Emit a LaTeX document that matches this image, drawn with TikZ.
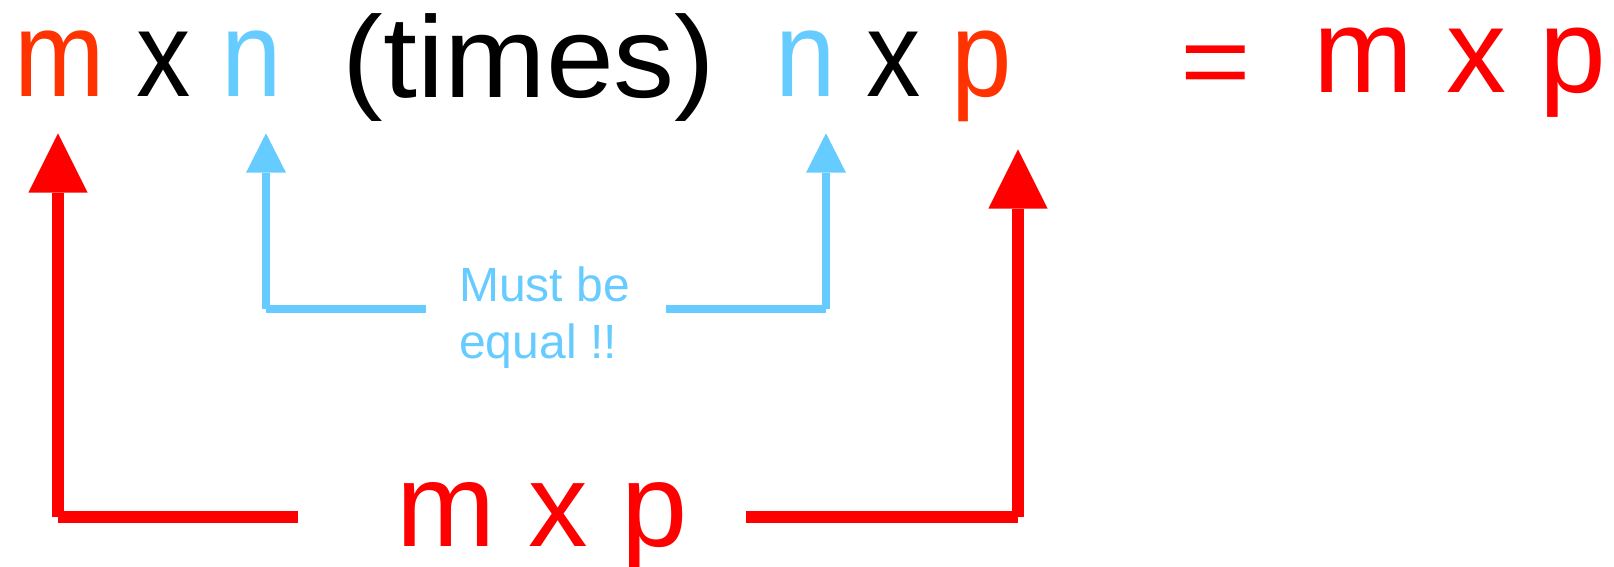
\documentclass[tikz,border=0pt]{standalone}
\usepackage{fontspec}
\setmainfont{Liberation Sans}
\usetikzlibrary{arrows.meta}
\definecolor{ored}{HTML}{FF3300}
\definecolor{sky}{HTML}{66CCFF}
\definecolor{pred}{HTML}{FF0000}
\begin{document}
\begin{tikzpicture}[x=1pt,y=-1pt,
  glyph/.style={anchor=base west, inner sep=0pt, outer sep=0pt, font=\fontsize{122}{140}\selectfont},
  bigtext/.style={anchor=base west, inner sep=0pt, outer sep=0pt, font=\fontsize{120}{140}\selectfont},
  redline/.style={draw=pred, line width=11.5pt},
  redarrow/.style={redline, -{Triangle[length=59.4pt, width=59.4pt, line width=0pt]}},
  skyline/.style={draw=sky, line width=8pt},
  skyarrow/.style={skyline, -{Triangle[length=39.4pt, width=40pt, line width=0pt]}}]
\useasboundingbox (0,0) rectangle (1614,567);
% top line
\node[glyph, text=ored] (m1) at (14.5,97) {\scalebox{0.89}[1]{m}};
\node[glyph] (x1) at (136.2,97) {\scalebox{0.89}[1]{x}};
\node[glyph, text=sky] (n1) at (221.3,97) {\scalebox{0.89}[1]{n}};
\node[glyph, font=\fontsize{115.8}{140}\selectfont] (times) at (342.7,98) {\scalebox{1.054}[1]{(times)}};
\node[glyph, text=sky] (n2) at (775.3,97) {\scalebox{0.89}[1]{n}};
\node[glyph] (x2) at (866.2,97) {\scalebox{0.89}[1]{x}};
\node[glyph, text=ored] (p2) at (951.3,97) {\scalebox{0.89}[1]{p}};
\node[bigtext, text=pred, font=\fontsize{121}{140}\selectfont] (eq) at (1180,98) {\scalebox{1}[0.87]{=}};
\node[bigtext, text=pred] (res) at (1313.3,93) {m x p};
% bottom
\node[bigtext, text=pred, font=\fontsize{119}{140}\selectfont] (bot) at (396.4,546) {m x p};
% note
\node[anchor=base west, inner sep=0pt, outer sep=0pt, align=left, text=sky,
      font=\fontsize{48}{56.6}\selectfont] (must) at (459.3,358.3) {Must be\\equal !!};
% corners
\coordinate (cL) at (58,517);
\coordinate (cR) at (1018,517);
\coordinate (cBL) at (266,309);
\coordinate (cBR) at (826,309);
% red connectors
\draw[redline, shorten <=98.7pt] (bot.west |- cL) -- (cL);
\draw[redarrow, shorten >=36.3pt] (cL) -- (cL |- m1.base);
\draw[redline, shorten <=58.6pt] (bot.east |- cR) -- (cR);
\draw[redarrow, shorten >=52.3pt] (cR) -- (cR |- p2.base);
% sky connectors
\draw[skyline, shorten <=33.3pt] (must.west |- cBL) -- (cBL);
\draw[skyarrow, shorten >=36.3pt] (cBL) -- (cBL |- n1.base);
\draw[skyline, shorten <=36.2pt] (must.east |- cBR) -- (cBR);
\draw[skyarrow, shorten >=36.3pt] (cBR) -- (cBR |- n2.base);
\end{tikzpicture}
\end{document}
